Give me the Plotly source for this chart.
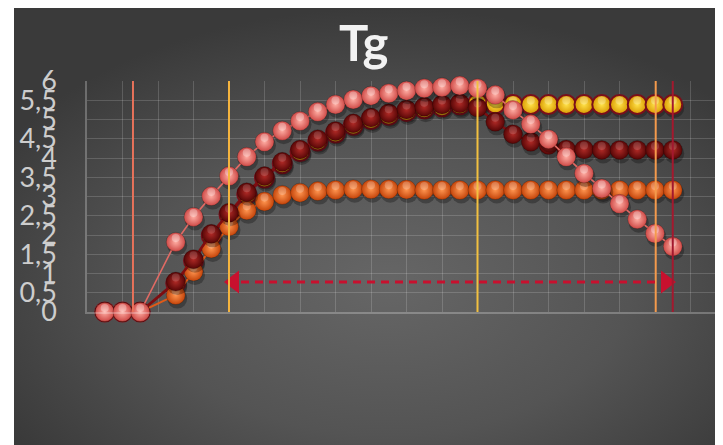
import base64
import plotly.graph_objects as go

# ---- data ----
x_idx = [0, 1, 2] + list(range(4, 33))

pink = [0, 0, 0, 1.82, 2.47, 3.01, 3.53, 4.03, 4.42, 4.71, 4.96, 5.20, 5.39, 5.52, 5.62, 5.68,
        5.75, 5.81, 5.84, 5.88, 5.81, 5.64, 5.25, 4.88, 4.49, 4.03, 3.60, 3.21, 2.81, 2.41, 2.04, 1.70]
darkred = [0, 0, 0, 0.79, 1.37, 2.03, 2.58, 3.11, 3.53, 3.90, 4.22, 4.49, 4.70, 4.90, 5.05, 5.16,
           5.26, 5.33, 5.39, 5.42, 5.31, 4.94, 4.62, 4.42, 4.34, 4.22, 4.22, 4.21, 4.21, 4.21, 4.21, 4.21]
orange = [0, 0, 0, 0.44, 1.05, 1.65, 2.22, 2.64, 2.87, 3.04, 3.10, 3.14, 3.17, 3.19, 3.19, 3.19,
          3.18, 3.17, 3.17, 3.17, 3.17, 3.17, 3.17, 3.17, 3.17, 3.17, 3.17, 3.17, 3.17, 3.17, 3.17, 3.17]
yellow = [0, 0, 0, 0.75, 1.33, 1.98, 2.53, 3.06, 3.48, 3.85, 4.17, 4.44, 4.65, 4.85, 5.00, 5.11,
          5.21, 5.28, 5.33, 5.38, 5.42, 5.40, 5.39, 5.39, 5.39, 5.39, 5.39, 5.39, 5.39, 5.39, 5.39, 5.39]

y_ticks = [0, 0.5, 1, 1.5, 2, 2.5, 3, 3.5, 4, 4.5, 5, 5.5, 6]
y_labels = ["0", "0,5", "1", "1,5", "2", "2,5", "3", "3,5", "4", "4,5", "5", "5,5", "6"]

# marker lines (x position, colour)
vlines = [(1.59, "#e8725a"), (7.0, "#f5b43e"), (21.0, "#f2c040"), (31.04, "#f49a4c"), (32.0, "#a3182e")]
arrow_from, arrow_to, arrow_y = 7.0, 31.9, 0.78

# ---- geometry (page has an 8px body margin) ----
W, H = 723, 445
OFF = 8
L, R, T, B = 87 - OFF, 8, 81 - OFF, 445 - (312 - OFF)
pw, ph = W - L - R, H - T - B
px_per_x = 17.75
px_per_y = ph / 6


def px_x(p):  # screen pixel -> paper x
    return (p - OFF - L) / pw


def px_y(p):  # screen pixel -> paper y
    return (H - B - (p - OFF)) / ph


# background: radial grey gradient
svg = (
    '<svg xmlns="http://www.w3.org/2000/svg" width="709" height="445">'
    '<defs><radialGradient id="g" cx="52%" cy="62%" r="62%">'
    '<stop offset="0" stop-color="#666666"/><stop offset="0.55" stop-color="#545454"/>'
    '<stop offset="1" stop-color="#3a3a3a"/></radialGradient></defs>'
    '<rect width="709" height="445" fill="url(#g)"/></svg>'
)
bg_src = "data:image/svg+xml;base64," + base64.b64encode(svg.encode()).decode()

fig = go.Figure()


def balls(y, edge, center, line_col, lw=2, outline=None, shine=0.3):
    # soft drop shadow
    fig.add_trace(go.Scatter(
        x=[v + 1.5 / px_per_x for v in x_idx], y=[v - 3.5 / px_per_y for v in y],
        mode="markers", cliponaxis=False,
        marker=dict(size=20, color="rgba(0,0,0,0.28)", line=dict(width=0)),
        hoverinfo="skip", showlegend=False,
    ))
    fig.add_trace(go.Scatter(
        x=x_idx, y=y, mode="lines+markers", cliponaxis=False,
        line=dict(color=line_col, width=lw),
        marker=dict(size=19, color=edge,
                    gradient=dict(type="radial", color=center),
                    line=dict(color=outline or "rgba(0,0,0,0.2)", width=2 if outline else 1)),
        hoverinfo="x+y", showlegend=False,
    ))
    # glossy highlight near the top of each ball
    fig.add_trace(go.Scatter(
        x=x_idx, y=[v + 4 / px_per_y for v in y],
        mode="markers", cliponaxis=False,
        marker=dict(size=8, color="rgba(255,255,255,%.2f)" % shine, line=dict(width=0)),
        hoverinfo="skip", showlegend=False,
    ))


balls(yellow, "#d99a00", "#ffe24a", "#7a0f1a", 2, outline="#7a0f1a", shine=0.25)
balls(orange, "#c4440a", "#ff9550", "#e05a18", 2, shine=0.22)
balls(darkred, "#560606", "#b02a26", "#7e0d10", 2.5, shine=0.15)
balls(pink, "#cf4a47", "#ffaea4", "#e06a64", 1.6, shine=0.3)

# arrow heads
fig.add_trace(go.Scatter(
    x=[arrow_from + 5 / px_per_x, arrow_to - 5 / px_per_x], y=[arrow_y, arrow_y],
    mode="markers", cliponaxis=False,
    marker=dict(symbol=["triangle-left", "triangle-right"], size=20, color="#c8102e",
                line=dict(width=0)),
    hoverinfo="skip", showlegend=False,
))

shapes = []
for xv, col in vlines:
    shapes.append(dict(type="line", xref="x", yref="y", x0=xv, x1=xv, y0=0, y1=6,
                       line=dict(color=col, width=2), layer="above"))
shapes.append(dict(type="line", xref="x", yref="y",
                   x0=arrow_from + 12 / px_per_x, x1=arrow_to - 12 / px_per_x,
                   y0=arrow_y, y1=arrow_y,
                   line=dict(color="#c8102e", width=3, dash="8px,6px"), layer="above"))

fig.update_layout(
    width=W, height=H,
    margin=dict(l=L, r=R, t=T, b=B),
    paper_bgcolor="white",
    plot_bgcolor="rgba(0,0,0,0)",
    shapes=shapes,
    images=[dict(source=bg_src, xref="paper", yref="paper",
                 x=px_x(14), y=px_y(OFF), sizex=(W - 14 + OFF) / pw, sizey=H / ph,
                 xanchor="left", yanchor="top", sizing="stretch", layer="below")],
    annotations=[dict(text="<b>Tg</b>", xref="paper", yref="paper", x=px_x(364), y=px_y(42),
                      xanchor="center", yanchor="middle", showarrow=False,
                      font=dict(family="Lato", size=49, color="#f2f2f2"))],
    xaxis=dict(range=[-1, -1 + pw / px_per_x], tick0=-1, dtick=2, showticklabels=False,
               showgrid=True, gridcolor="rgba(255,255,255,0.16)", gridwidth=1.3,
               zeroline=False, showline=True, linecolor="rgba(255,255,255,0.25)", linewidth=1.5),
    yaxis=dict(range=[0, 6], tickvals=y_ticks, ticktext=y_labels,
               showgrid=True, gridcolor="rgba(255,255,255,0.16)", gridwidth=1.3,
               zeroline=False, showline=True, linecolor="rgba(255,255,255,0.25)", linewidth=1.5,
               ticklabelstandoff=23,
               tickfont=dict(family="Lato", size=27, color="#cdcdcd")),
)

fig.write_html("out.html")
